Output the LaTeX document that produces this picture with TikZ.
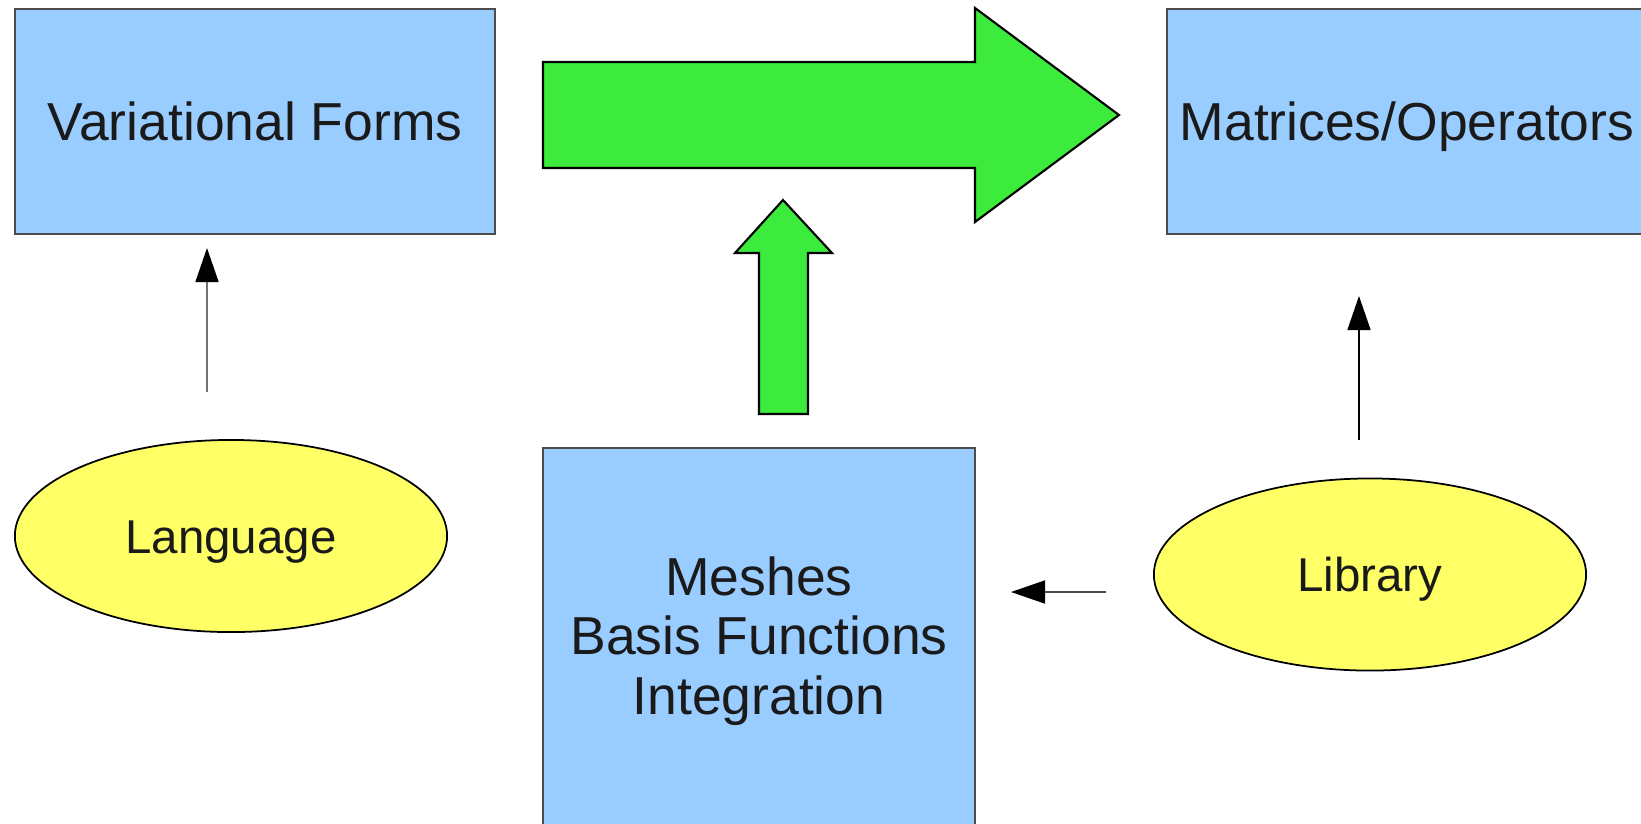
\documentclass[tikz,border=0pt]{standalone}
\usepackage{fontspec}
\setmainfont{Liberation Sans}
\usetikzlibrary{shapes.geometric,arrows.meta}

\definecolor{boxblue}{HTML}{99CCFF}
\definecolor{flowgreen}{HTML}{3DEB3D}
\definecolor{ovalyellow}{HTML}{FFFF66}
\definecolor{inkgray}{HTML}{1A1A1A}

\begin{document}
\begin{tikzpicture}[x=0.01cm,y=-0.01cm,
	box/.style={draw=black!70,line width=0.5pt,fill=boxblue,text=inkgray,
		align=center,inner sep=0pt,font=\fontsize{15.2}{17}\selectfont},
	oval/.style={ellipse,draw=black,line width=0.5pt,fill=ovalyellow,text=inkgray,
		inner sep=0pt,minimum width=4.32cm,minimum height=1.92cm,
		text height=9.7pt,text depth=0pt,font=\fontsize{13.5}{16}\selectfont},
	flow/.style={draw=black,line width=0.6pt,fill=flowgreen,line join=miter},
	link/.style={line width=0.45pt,-{Triangle[length=3.4mm,width=2.3mm,black]}}]
	\useasboundingbox (0,0) rectangle (1641,823);
	
	\node[box,minimum width=4.8cm,minimum height=2.25cm,text height=10.9pt,text depth=0pt] (forms) at (255,121.5) {Variational Forms};
	\node[box,minimum width=4.8cm,minimum height=2.25cm,text height=10.9pt,text depth=0pt] (matrices) at (1407,121.5) {Matrices/Operators};
	\node[box,minimum width=4.32cm,minimum height=3.86cm] (meshes) at (759,641) {Meshes\\Basis Functions\\Integration};
	\node[oval] (language) at (231,536) {Language};
	\node[oval] (library) at (1370,574.5) {Library};
	
	% block arrows
	\draw[flow] (543,62) -- (975,62) -- (975,8) -- (1119,115) -- (975,222) -- (975,168) -- (543,168) -- cycle;
	\draw[flow] (759,414) -- (759,253) -- (735,253) -- (783,200) -- (832,253) -- (808,253) -- (808,414) -- cycle;
	
	\coordinate (langtail) at (207,392);
	\coordinate (langtip) at (207,248);
	\coordinate (libtail) at (1359,440);
	\coordinate (libtip) at (1359,296);
	\coordinate (usetail) at (1106,592);
	\coordinate (usetip) at (1011,592);
	
	\draw[link,black!55] (langtail) -- (langtip);
	\draw[link,black] (libtail) -- (libtip);
	\draw[link,black!70] (usetail) -- (usetip);
\end{tikzpicture}
\end{document}
